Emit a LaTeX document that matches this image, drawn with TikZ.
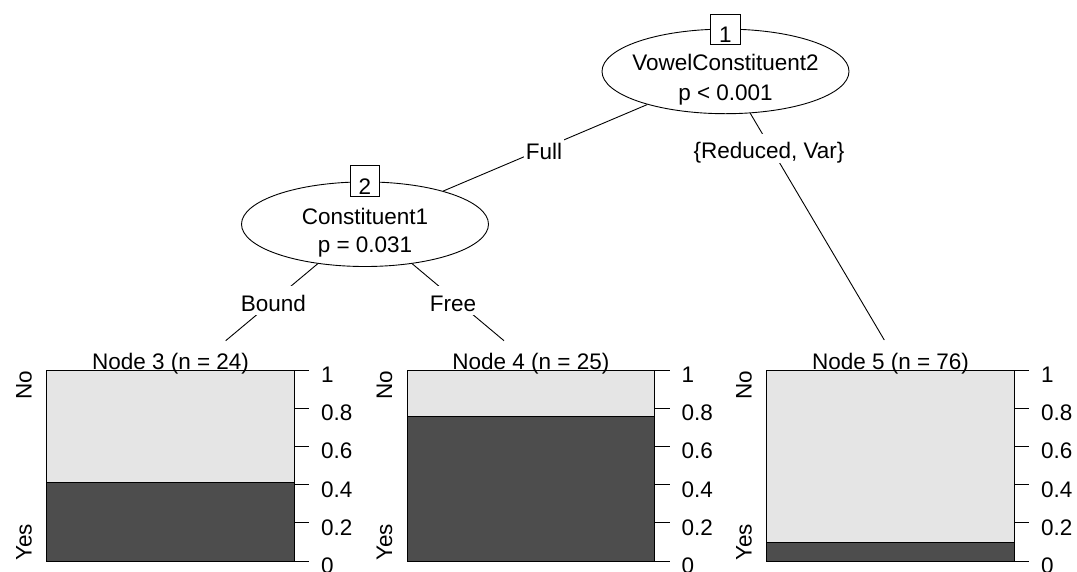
\documentclass[tikz,border=0pt]{standalone}
\usepackage{fontspec}
\setmainfont{Liberation Sans}
\usetikzlibrary{shapes.geometric}
\definecolor{barlight}{HTML}{E5E5E5}
\definecolor{bardark}{HTML}{4D4D4D}
\begin{document}
\begin{tikzpicture}[x=1pt,y=-1pt, font=\fontsize{22.5}{27}\selectfont,
  innernode/.style={ellipse, draw, line width=0.9pt, fill=white, minimum width=247pt, minimum height=84.6pt, inner sep=0pt},
  idbox/.style={draw, fill=white, line width=0.9pt, minimum width=29.5pt, minimum height=30.8pt, inner sep=0pt},
  txt/.style={anchor=base, inner sep=0pt},
  edgelab/.style={anchor=base, fill=white, text height=21pt, text depth=0pt, inner xsep=1.5pt, inner ysep=4pt},
  edgeline/.style={line width=0.9pt},
  panelline/.style={line width=0.9pt, draw=black},
  ticklab/.style={anchor=base west, inner sep=0pt},
  sidelab/.style={rotate=90, inner sep=0pt}]
\useasboundingbox (0,0) rectangle (1077,571);
\fill[white] (0,0) rectangle (1077,571);

% inner nodes
\node[innernode] (e1) at (725.5,71.4) {};
\node[innernode] (e2) at (365,224.2) {};
\node[idbox] (b1) at (725.5,29.5) {};
\node[idbox] (b2) at (365,181.3) {};
\node[txt] (b1t) at (725.5,42.5) {1};
\node[txt] (b2t) at (365,194.3) {2};
\node[txt] (e1a) at (725.5,70.7) {VowelConstituent2};
\node[txt] (e1b) at (725.5,100) {p < 0.001};
\node[txt] (e2a) at (365,224) {Constituent1};
\node[txt] (e2b) at (365,252) {p = 0.031};

% edge end points
\coordinate (t3) at (225.7,340.7);
\coordinate (t4) at (504,340.7);
\coordinate (t5) at (884.3,340);

\draw[edgeline] (e1) -- (e2);
\draw[edgeline] (e1) -- (t5);
\draw[edgeline] (e2) -- (t3);
\draw[edgeline] (e2) -- (t4);

\node[edgelab] (lfull) at (544,159.5) {Full};
\node[edgelab] (lred) at (769,158.5) {\{Reduced, Var\}};
\node[edgelab] (lbound) at (273.3,311) {Bound};
\node[edgelab] (lfree) at (453,311) {Free};

% terminal panels
\foreach \n/\L/\D/\T in {3/46.7/482.5/24, 4/407.1/416.5/25, 5/766.7/542.5/76} {
  \fill[barlight] (\L,370) rectangle ++(247.6,191);
  \fill[bardark] (\L,\D) rectangle (\L+247.6,561);
  \draw[panelline] (\L,\D) -- (\L+247.6,\D);
  \draw[panelline] (\L,370) rectangle ++(247.6,191);
  \node[txt] (title\n) at (\L+123.8,369.5) {Node \n\ (n = \T)};
  \node[sidelab, anchor=base east] (no\n) at (\L-15,370.5) {No};
  \node[sidelab, anchor=base west] (yes\n) at (\L-15,561) {Yes};
  \foreach \k/\lab in {0/0,1/0.2,2/0.4,3/0.6,4/0.8,5/1} {
    \draw[panelline] (\L+247.6,561-38.2*\k) -- (\L+262.6,561-38.2*\k);
    \node[ticklab] (tick\n\k) at (\L+274.3,573.5-38.2*\k) {\lab};
  }
}
\end{tikzpicture}
\end{document}
